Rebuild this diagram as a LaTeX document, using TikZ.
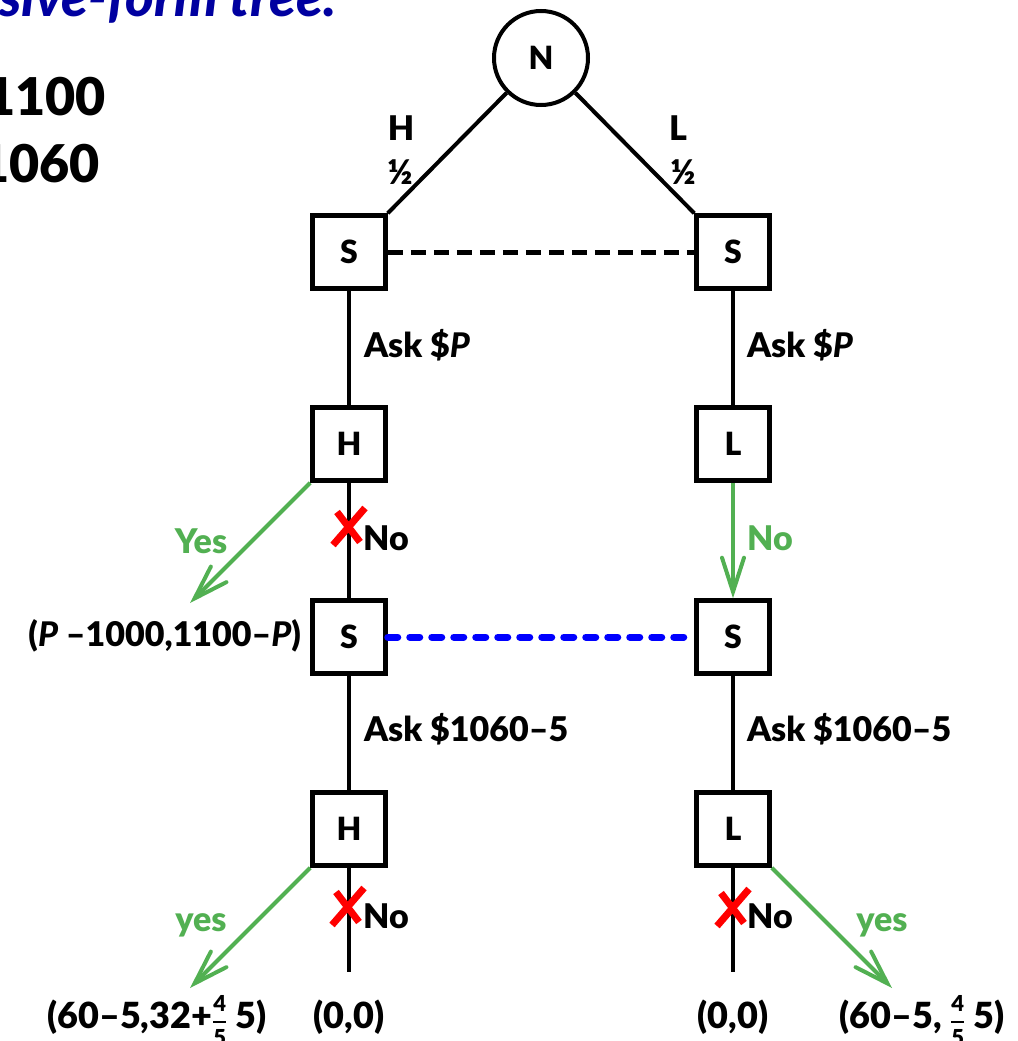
\documentclass[tikz,border=0pt]{standalone}
\usepackage{amsmath}
\usepackage{fontspec}
\setmainfont{Lato}[BoldFont={Lato Black}, BoldItalicFont={Lato Black Italic}]
\usepackage{tikz}
\usetikzlibrary{arrows.meta}
\definecolor{yesgreen}{RGB}{82,176,82}
\definecolor{titleblue}{RGB}{0,0,160}
\newcommand{\payfrac}[2]{$\genfrac{}{}{1.5pt}{0}{\text{\fontsize{22}{22}\selectfont\bfseries #1}}{\text{\fontsize{22}{22}\selectfont\bfseries #2}}$}
\tikzset{
box/.style = {rectangle, draw=black, line width=4.5pt, minimum width=#1,
              minimum height=#1, inner sep=0pt,
              font=\fontsize{32}{36}\selectfont\bfseries},
box/.default = 73pt % side of the square
}
\tikzset{
chance/.style = {circle, draw=black, line width=4pt, minimum size=94pt,
                 inner sep=0pt, font=\fontsize{32}{36}\selectfont\bfseries}
}
\tikzset{
lbl/.style = {inner sep=0pt, font=\fontsize{34}{40}\selectfont\bfseries},
pay/.style = {inner sep=0pt, anchor=base, font=\fontsize{36}{40}\selectfont\bfseries},
yes/.style = {draw=yesgreen, line width=4pt,
              -{Straight Barb[length=34pt,width=22pt,line cap=round]}},
cross/.style = {draw=red, line width=7pt}
}

\begin{document}
\begin{tikzpicture}[x=1pt,y=-1pt,line width=4pt]
    \useasboundingbox (0,0) rectangle (1017,1041);
    % cropped heading
    \node[anchor=base west, inner sep=0pt, text=titleblue,
          font=\fontsize{55}{60}\selectfont\bfseries\itshape] (title) at (-3,17) {sive-form tree.};
    \node[anchor=base east, inner sep=0pt, font=\fontsize{52}{56}\selectfont\bfseries] (valH) at (108,115) {1100};
    \node[anchor=base east, inner sep=0pt, font=\fontsize{52}{56}\selectfont\bfseries] (valL) at (102,182) {1060};

    \node[chance] (nat) at (541,58) {N};
    \node[box] (sH) at (349,252) {S};
    \node[box] (sL) at (733,252) {S};
    \node[box] (bH) at (349,444) {H};
    \node[box] (bL) at (733,444) {L};
    \node[box] (sH2) at (349,637) {S};
    \node[box] (sL2) at (733,637) {S};
    \node[box] (bH2) at (349,829) {H};
    \node[box] (bL2) at (733,829) {L};

    \coordinate (yesH) at (190,603);
    \coordinate (yesH2) at (190,988);
    \coordinate (yesL2) at (892,988);
    \coordinate (noH2) at (349,972);
    \coordinate (noL2) at (733,972);

    \draw (nat) -- (sH.north east);
    \draw (nat) -- (sL.north west);
    \node[lbl] (labH) at (401,128) {H};
    \node[lbl] (probH) at (400,172) {½};
    \node[lbl] (labL) at (678,128) {L};
    \node[lbl] (probL) at (683,172) {½};
    \draw[line width=5pt, dash pattern=on 15pt off 8pt] (sH) -- (sL);

    \draw (sH) -- (bH);
    \draw (sL) -- (bL);
    \node[lbl, anchor=west] (askH) at (362,345) {Ask \$\textit{P}};
    \node[lbl, anchor=west] (askL) at (745,345) {Ask \$\textit{P}};

    \draw (bH) -- (sH2);
    \draw[yes] (bH.south west) -- (yesH);
    \draw[yes] (bL) -- (sL2);
    \node[lbl, text=yesgreen] (yH) at (201,541) {Yes};
    \node[lbl] (nH) at (386,538) {No};
    \node[lbl, text=yesgreen] (nL) at (770,538) {No};
    \node[lbl, anchor=east] (payH) at (303,636) {(\textit{P} --1000,1100--\textit{P})};
    \draw[draw=blue, line width=7pt, line cap=round, dash pattern=on 10pt off 12pt] (sH2) -- (sL2);

    \draw (sH2) -- (bH2);
    \draw (sL2) -- (bL2);
    \node[lbl, anchor=west] (askH2) at (362,729) {Ask \$1060--5};
    \node[lbl, anchor=west] (askL2) at (745,729) {Ask \$1060--5};

    \draw (bH2) -- (noH2);
    \draw (bL2) -- (noL2);
    \draw[yes] (bH2.south west) -- (yesH2);
    \draw[yes] (bL2.south east) -- (yesL2);
    \node[lbl, text=yesgreen] (yH2) at (201,925) {yes};
    \node[lbl, text=yesgreen] (yL2) at (882,925) {yes};
    \node[lbl] (nH2) at (386,916) {No};
    \node[lbl] (nL2) at (770,916) {No};

    % crossed out moves
    \foreach \cx/\cy in {349/527, 348/907, 733/908}
        \draw[cross, shift={(\cx,\cy)}] (-16,18) -- (16,-19) (-12,-15) -- (11,15);

    \node[pay] (payYH) at (157,1028) {(60--5,32+\payfrac{4}{5} 5)};
    \node[pay] (payNH) at (349,1028) {(0,0)};
    \node[pay] (payNL) at (733,1028) {(0,0)};
    \node[pay] (payYL) at (922,1028) {(60--5, \payfrac{4}{5} 5)};
\end{tikzpicture}
\end{document}
